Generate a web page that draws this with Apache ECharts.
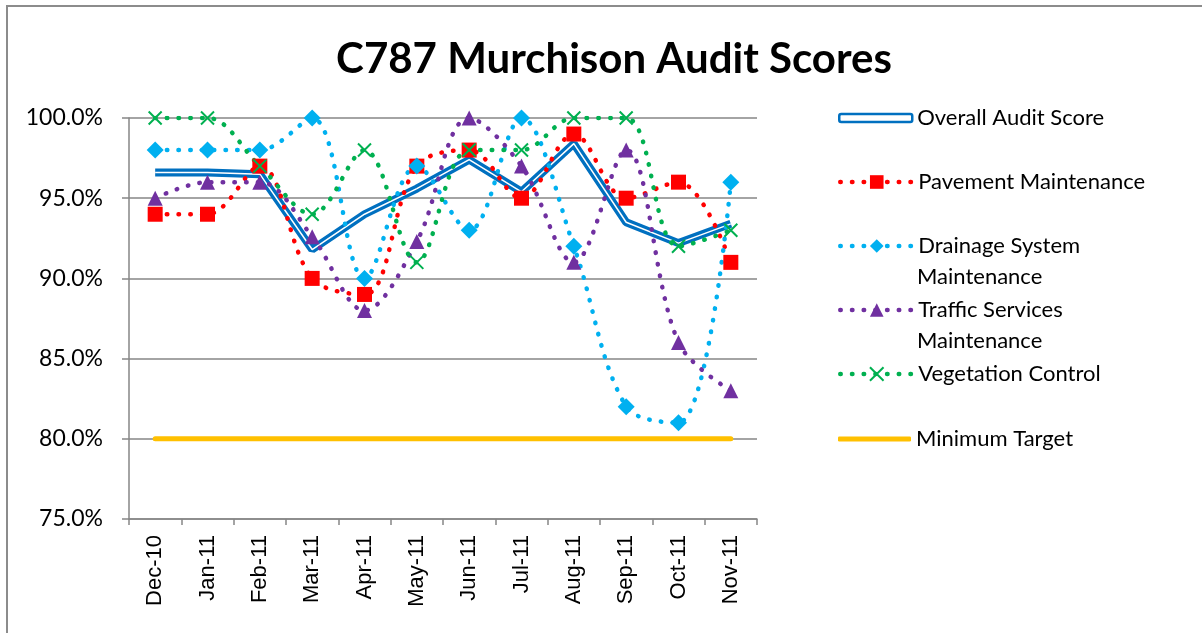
<!DOCTYPE html>
<html>
<head>
<meta charset="utf-8">
<script src="https://cdn.jsdelivr.net/npm/echarts@6/dist/echarts.min.js"></script>
<style>
    html, body { margin: 0; padding: 0; background: #fff; }
    #chart { width: 1202px; height: 633px; }
</style>
</head>
<body>
<div id="chart"></div>
<script>
// months on the x axis
const months = ['Dec-10', 'Jan-11', 'Feb-11', 'Mar-11', 'Apr-11', 'May-11',
    'Jun-11', 'Jul-11', 'Aug-11', 'Sep-11', 'Oct-11', 'Nov-11']

// scores in percent
const overallScore = [96.6, 96.6, 96.5, 91.8, 94.0, 95.6, 97.4, 95.4, 98.4, 93.5, 92.2, 93.4]
const pavement = [94, 94, 97, 90, 89, 97, 98, 95, 99, 95, 96, 91]
const drainage = [98, 98, 98, 100, 90, 97, 93, 100, 92, 82, 81, 96]
const traffic = [95, 96, 96, 92.6, 88, 92.3, 100, 97, 91, 98, 86, 83]
const vegetation = [100, 100, 97, 94, 98, 91, 98, 98, 100, 100, 92, 93]
const minTarget = [80, 80, 80, 80, 80, 80, 80, 80, 80, 80, 80, 80]

const yTicks = { min: 75, max: 100, step: 5 }

const chart = echarts.init(document.getElementById('chart'))

const dotted = (color) => ({
    color,
    width: 4.5,
    type: [0.5, 11.2],
    cap: 'round',
})

const CROSS = 'path://M0,0L10,10M10,0L0,10'

const legendText = { fontFamily: 'Lato', fontSize: 22, color: '#000', lineHeight: 26 }

const baseLegend = {
    orient: 'vertical',
    left: 838,
    padding: 0,
    itemWidth: 73,
    selectedMode: false,
    textStyle: legendText,
}

const option = {
    animation: false,
    textStyle: { fontFamily: 'Lato', color: '#000' },
    title: {
        text: 'C787 Murchison Audit Scores',
        left: 609,
        top: 33,
        textAlign: 'center',
        textStyle: { fontFamily: 'Lato', fontWeight: 'bold', fontSize: 42, color: '#000' },
    },
    graphic: [
        {
            type: 'rect',
            shape: { x: 7, y: 6, width: 1400, height: 800 },
            style: { fill: 'none', stroke: '#8c8c8c', lineWidth: 2 },
            silent: true,
        },
        {
            type: 'text',
            left: 917,
            top: 266,
            style: { text: 'Maintenance', fontFamily: 'Lato', fontSize: 22, fill: '#000' },
        },
        {
            type: 'text',
            left: 917,
            top: 330,
            style: { text: 'Maintenance', fontFamily: 'Lato', fontSize: 22, fill: '#000' },
        },
    ],
    legend: [
        {
            ...baseLegend,
            top: 105,
            itemHeight: 8,
            data: [{ name: 'Overall Audit Score', icon: 'roundRect', itemStyle: { color: '#fff', borderColor: '#0070C0', borderWidth: 2.5 } }],
        },
        {
            ...baseLegend,
            top: 169,
            itemGap: 38,
            itemHeight: 17,
            lineStyle: { width: 4.5, cap: 'round' },
            formatter: (name) => {
                if (name === 'Drainage System Maintenance') return 'Drainage System'
                if (name === 'Traffic Services Maintenance') return 'Traffic Services'
                return name
            },
            data: [
                'Pavement Maintenance',
                'Drainage System Maintenance',
                'Traffic Services Maintenance',
                'Vegetation Control',
            ],
        },
        {
            ...baseLegend,
            top: 426,
            itemHeight: 5,
            data: [{ name: 'Minimum Target', icon: 'roundRect', itemStyle: { color: '#FFC000' } }],
        },
    ],
    grid: { left: 129, right: 445, top: 118, bottom: 114 },
    xAxis: {
        type: 'category',
        data: months,
        boundaryGap: true,
        axisLine: { lineStyle: { color: '#868686', width: 1.5 } },
        axisTick: { show: true, length: 6, lineStyle: { color: '#868686', width: 1.5 } },
        axisLabel: {
            rotate: 90,
            interval: 0,
            margin: 16,
            fontFamily: 'Liberation Sans',
            fontSize: 22,
            color: '#000',
        },
    },
    yAxis: {
        type: 'value',
        min: yTicks.min,
        max: yTicks.max,
        interval: yTicks.step,
        axisLine: { show: true, lineStyle: { color: '#868686', width: 1.5 } },
        axisTick: { show: true, length: 7, lineStyle: { color: '#868686', width: 1.5 } },
        axisLabel: {
            margin: 26,
            fontFamily: 'Lato',
            fontSize: 23,
            color: '#000',
            formatter: (v) => v.toFixed(1) + '%',
        },
        splitLine: { lineStyle: { color: '#868686', width: 1.5 } },
    },
    series: [
        {
            name: 'Overall Audit Score',
            type: 'line',
            data: overallScore,
            symbol: 'none',
            lineStyle: { color: '#0070C0', width: 8 },
            itemStyle: { color: '#0070C0' },
            z: 2,
        },
        {
            name: 'overall-inner',
            type: 'line',
            data: overallScore,
            symbol: 'none',
            silent: true,
            lineStyle: { color: '#fff', width: 1.5 },
            z: 2,
        },
        {
            name: 'Pavement Maintenance',
            type: 'line',
            data: pavement,
            smooth: 0.35,
            symbol: 'rect',
            symbolSize: 15,
            lineStyle: dotted('#FF0000'),
            itemStyle: { color: '#FF0000' },
            z: 3,
        },
        {
            name: 'Drainage System Maintenance',
            type: 'line',
            data: drainage,
            smooth: 0.35,
            symbol: 'diamond',
            symbolSize: 17,
            lineStyle: dotted('#00B0F0'),
            itemStyle: { color: '#00B0F0' },
            z: 3,
        },
        {
            name: 'Traffic Services Maintenance',
            type: 'line',
            data: traffic,
            smooth: 0.35,
            symbol: 'triangle',
            symbolSize: 15,
            lineStyle: dotted('#7030A0'),
            itemStyle: { color: '#7030A0' },
            z: 3,
        },
        {
            name: 'Vegetation Control',
            type: 'line',
            data: vegetation,
            smooth: 0.35,
            symbol: CROSS,
            symbolSize: 13,
            lineStyle: dotted('#00B050'),
            itemStyle: { color: 'rgba(0,0,0,0)', borderColor: '#00B050', borderWidth: 2 },
            z: 3,
        },
        {
            name: 'Minimum Target',
            type: 'line',
            data: minTarget,
            symbol: 'none',
            lineStyle: { color: '#FFC000', width: 5, cap: 'round' },
            itemStyle: { color: '#FFC000' },
            z: 3,
        },
    ],
}

chart.setOption(option)
</script>
</body>
</html>
